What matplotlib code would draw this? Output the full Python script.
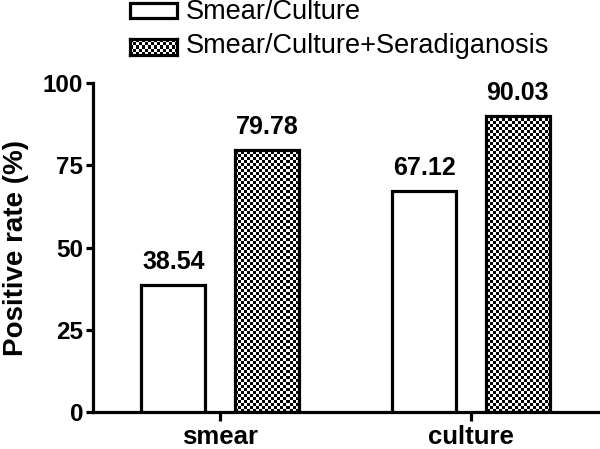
import numpy as np
import matplotlib.pyplot as plt
from matplotlib.patches import Rectangle

categories = ['smear', 'culture']
series_names = ['Smear/Culture', 'Smear/Culture+Seradiganosis']
base_vals = [38.54, 67.12]
sero_vals = [79.78, 90.03]
y_ticks = [0, 25, 50, 75, 100]

plt.rcParams['font.family'] = ['Liberation Sans', 'DejaVu Sans']
LW = 2.3


def checker(nx, ny):
    yy, xx = np.mgrid[0:ny, 0:nx]
    return ((xx + yy) % 2).astype(float)


fig = plt.figure(figsize=(6, 4.49), dpi=100)
ax = fig.add_axes([0.155, 0.082, 0.842, 0.733])

x = np.arange(len(categories))
w = 0.255
off = 0.186
b1 = ax.bar(x - off, base_vals, w, facecolor='white', edgecolor='black', linewidth=LW, zorder=3)
b2 = ax.bar(x + off, sero_vals, w, facecolor='none', edgecolor='black', linewidth=LW, zorder=3)

ax.set_xlim(-0.506, 1.506)
ax.set_ylim(0, 100)

# checkerboard fill clipped to the hatched bars
img = checker(168, 110)
for p in b2.patches:
    im = ax.imshow(img, cmap='gray', extent=(-0.506, 1.506, 0, 100), aspect='auto',
                   interpolation='nearest', zorder=2, vmin=0, vmax=1)
    im.set_clip_path(p)
ax.set_aspect('auto')

for bars, vals in [(b1, base_vals), (b2, sero_vals)]:
    for p, v in zip(bars.patches, vals):
        ax.text(p.get_x() + p.get_width() / 2, v + 3.3, f'{v:.2f}', ha='center', va='bottom',
                fontsize=18, fontweight='bold')

ax.set_xticks(x)
ax.set_xticklabels(categories, fontsize=18.5, fontweight='bold')
ax.set_yticks(y_ticks)
ax.set_yticklabels([str(t) for t in y_ticks], fontsize=17.5, fontweight='bold')
ax.set_ylabel('Positive rate (%)', fontsize=20, fontweight='bold', labelpad=10)
ax.tick_params(axis='x', width=LW, length=6.5, pad=3)
ax.tick_params(axis='y', width=LW, length=5, pad=2)
for s in ['top', 'right']:
    ax.spines[s].set_visible(False)
for s in ['left', 'bottom']:
    ax.spines[s].set_linewidth(LW)

# legend drawn by hand (checker swatch)
fig.patches.append(Rectangle((130 / 600, 1 - 18 / 449), 47 / 600, 15 / 449, transform=fig.transFigure,
                             facecolor='white', edgecolor='black', linewidth=LW))
lax = fig.add_axes([130 / 600, 1 - 55 / 449, 47 / 600, 16 / 449])
lax.imshow(checker(16, 5), cmap='gray', aspect='auto', interpolation='nearest', vmin=0, vmax=1)
lax.set_xticks([])
lax.set_yticks([])
for s in lax.spines.values():
    s.set_linewidth(LW)
fig.text(186 / 600, 1 - 12 / 449, series_names[0], fontsize=19.5, va='center', ha='left')
fig.text(186 / 600, 1 - 46 / 449, series_names[1], fontsize=19.5, va='center', ha='left')

fig.savefig('out.png', dpi=100)
